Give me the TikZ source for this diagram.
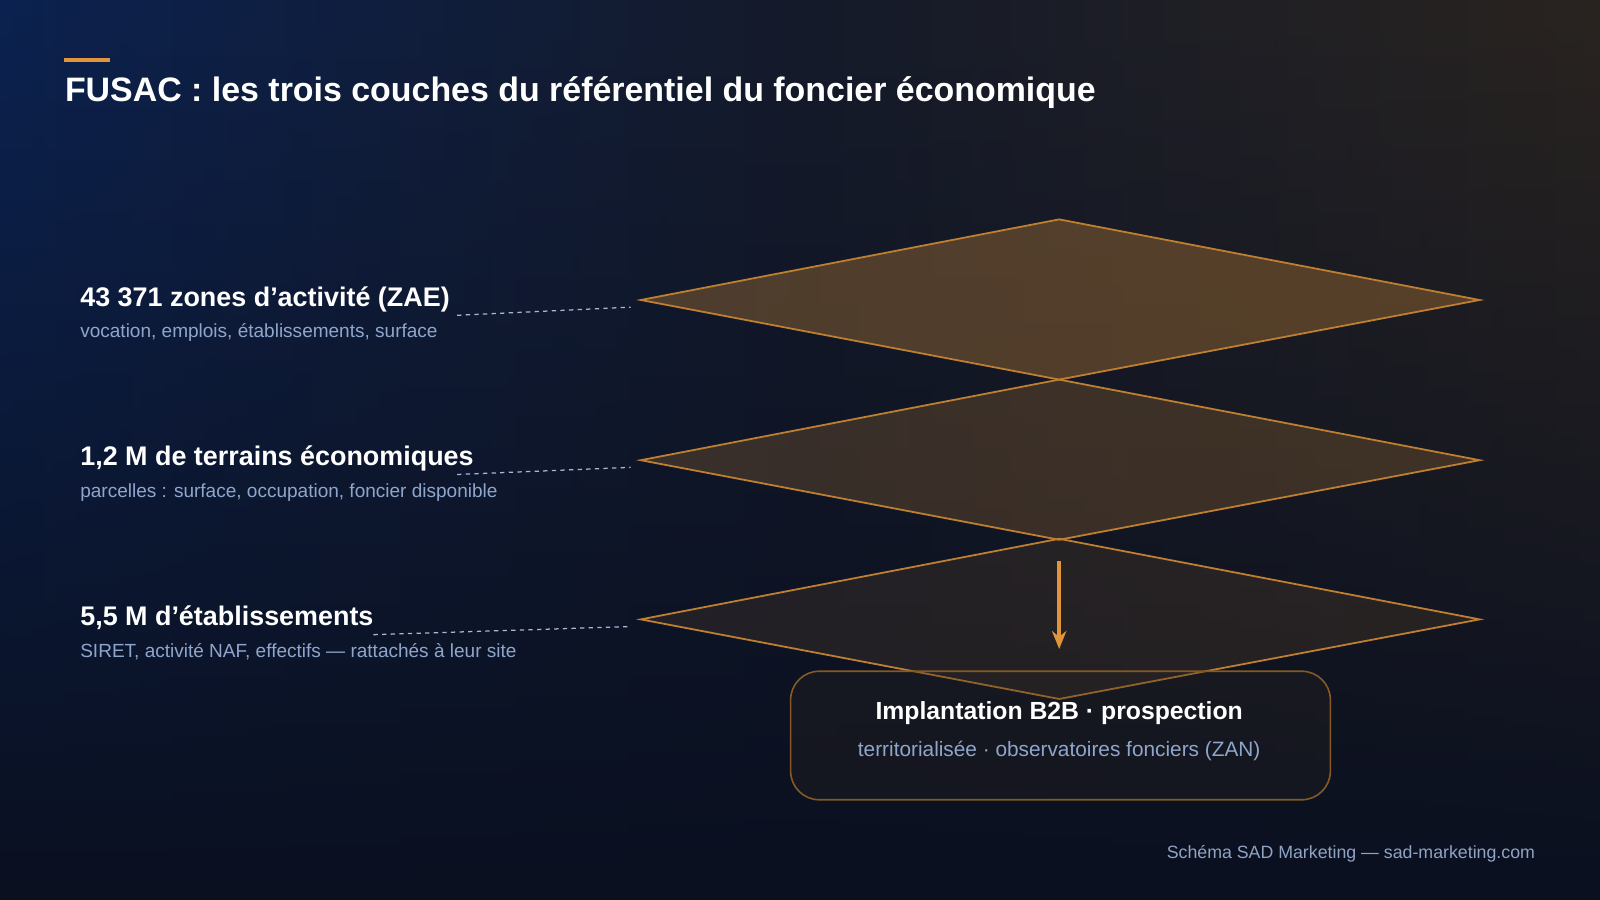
\documentclass[tikz,border=0pt]{standalone}
\usepackage{fontspec}
\setmainfont{Liberation Sans}
\usetikzlibrary{arrows.meta,fadings}
\definecolor{bgA}{HTML}{0C2250}
\definecolor{bgB}{HTML}{2A2420}
\definecolor{bgM}{HTML}{151B2B}
\definecolor{bgC}{HTML}{0A1020}
\definecolor{orng}{HTML}{E0953A}
\definecolor{sub}{HTML}{8FA6CC}
\definecolor{foot}{HTML}{8FA3C4}
\tikzset{
  layer/.style={draw=orng!85!black, line width=0.5pt, fill=orng, fill opacity=#1},
  ttl/.style={text=white, font=\bfseries\fontsize{9.45}{11}\selectfont, anchor=base west, inner sep=0},
  hd/.style={text=white, font=\bfseries\fontsize{7.5}{9}\selectfont, anchor=base west, inner sep=0},
  sb/.style={text=sub, font=\fontsize{5.3}{6}\selectfont, anchor=base west, inner sep=0},
  lead/.style={dash pattern=on 1.2pt off 1.2pt, draw=sub!80, line width=0.35pt}
}
\begin{document}
\begin{tikzpicture}[x=0.01cm,y=-0.01cm]
\useasboundingbox (0,0) rectangle (1568,882);
\shade[left color=bgA, right color=bgB, middle color=bgM] (0,0) rectangle (1568,882);
\fill[bgC, path fading=north] (0,0) rectangle (1568,882);
\fill[orng] (63,57) rectangle (108,61);
\node[ttl] (title) at (63,99) {FUSAC : les trois couches du référentiel du foncier économique};
% layers
\foreach \y/\o/\n in {607/0.10/c, 451/0.20/b, 294/0.30/a}{
  \path[layer=\o] (628,\y) -- (1038,\y-79) -- (1450,\y) -- (1038,\y+78) -- cycle;
  \coordinate (L\n) at (618,\y+7);
}
\coordinate (ar1) at (1038,550);
\coordinate (ar2) at (1038,636);
\draw[orng, line width=1pt, -{Stealth[length=5pt,width=4pt]}] (ar1) -- (ar2);
% labels
\node[hd] (h1) at (78,300) {43 371 zones d’activité (ZAE)};
\node[sb] (s1) at (78,331) {vocation, emplois, établissements, surface};
\node[hd] (h2) at (78,456) {1,2 M de terrains économiques};
\node[sb] (s2) at (78,488) {parcelles : surface, occupation, foncier disponible};
\node[hd] (h3) at (78,613) {5,5 M d’établissements};
\node[sb] (s3) at (78,644) {SIRET, activité NAF, effectifs — rattachés à leur site};
\coordinate (d1) at (448,309);
\coordinate (d2) at (448,465);
\coordinate (d3) at (366,622);
\draw[lead] (d1) -- (La);
\draw[lead] (d2) -- (Lb);
\draw[lead] (d3) -- (Lc);
% box
\node[draw=orng!60!black, line width=0.45pt, rounded corners=8pt, fill=bgB, fill opacity=0.3, text opacity=1,
  minimum width=529*0.01cm, minimum height=126*0.01cm, anchor=north west, inner sep=0] (box) at (774,657) {};
\node[text=white, font=\bfseries\fontsize{6.9}{8}\selectfont, inner sep=0] (bt) at (1038,699) {Implantation B2B · prospection};
\node[text=sub, font=\fontsize{5.8}{7}\selectfont, inner sep=0] (bs) at (1038,736) {territorialisée · observatoires fonciers (ZAN)};
\node[text=foot, font=\fontsize{4.95}{6}\selectfont, anchor=east, inner sep=0] (ft) at (1505,837) {Schéma SAD Marketing — sad-marketing.com};
\end{tikzpicture}
\end{document}
